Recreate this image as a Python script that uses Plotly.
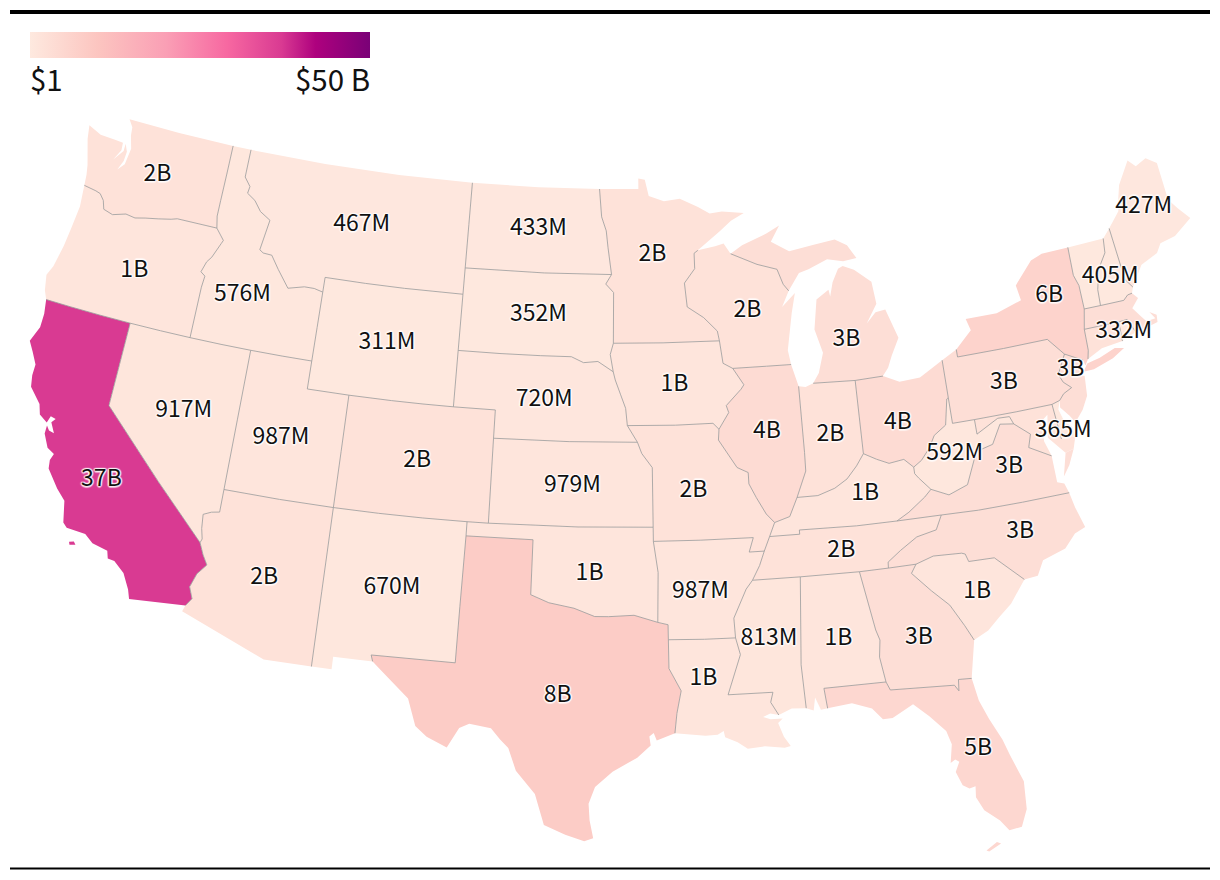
import plotly.graph_objects as go

# state values in dollars (unlabelled states are estimated from their fill)
states = ['WA', 'OR', 'CA', 'NV', 'ID', 'MT', 'WY', 'UT', 'AZ', 'NM', 'CO', 'ND', 'SD', 'NE', 'KS', 'OK', 'TX',
          'MN', 'IA', 'MO', 'AR', 'LA', 'WI', 'IL', 'MI', 'IN', 'OH', 'KY', 'TN', 'MS', 'AL', 'GA', 'FL', 'SC',
          'NC', 'VA', 'WV', 'PA', 'NY', 'NJ', 'DE', 'NH', 'RI', 'ME', 'MD', 'VT', 'MA', 'CT']
values = [2e9, 1e9, 37e9, 917e6, 576e6, 467e6, 311e6, 987e6, 2e9, 670e6, 2e9, 433e6, 352e6, 720e6, 979e6, 1e9, 8e9,
          2e9, 1e9, 2e9, 987e6, 1e9, 2e9, 4e9, 3e9, 2e9, 4e9, 1e9, 2e9, 813e6, 1e9, 3e9, 5e9, 1e9,
          3e9, 3e9, 592e6, 3e9, 6e9, 3e9, 365e6, 405e6, 332e6, 427e6, 2e9, 200e6, 3e9, 2e9]
labels = ['2B', '1B', '37B', '917M', '576M', '467M', '311M', '987M', '2B', '670M', '2B', '433M', '352M', '720M', '979M', '1B', '8B',
          '2B', '1B', '2B', '987M', '1B', '2B', '4B', '3B', '2B', '4B', '1B', '2B', '813M', '1B', '3B', '5B', '1B',
          '3B', '3B', '592M', '3B', '6B', '3B', '365M', '405M', '332M', '427M']
label_lon = [-120.55, -120.45, -119.49, -116.56, -114.95, -109.6, -107.55, -111.89, -111.6, -106.05, -105.5, -100.4, -100.2, -99.75, -98.3, -97.45, -98.7,
             -94.45, -93.5, -92.75, -92.6, -92.6, -89.75, -89.2, -85.0, -86.25, -83.05, -84.95, -86.3, -89.75, -86.8, -83.4, -81.63, -80.65,
             -78.35, -78.3, -80.65, -77.8, -74.8, -74.6, -75.55, -71.65, -71.7, -69.1]
label_lat = [47.33, 43.83, 36.38, 39.4, 43.84, 47.03, 43.0, 39.12, 34.16, 34.43, 38.96, 47.48, 44.43, 41.43, 38.43, 35.35, 31.0,
             46.62, 42.0, 38.24, 34.65, 31.6, 44.5, 40.18, 43.14, 39.86, 40.0, 37.68, 35.75, 32.88, 32.7, 32.4, 28.2, 33.7,
             35.53, 37.85, 38.63, 40.8, 43.47, 40.75, 38.7, 43.63, 41.6, 45.7]

# state outlines in lon/lat. names with a hyphen are shared borders, the rest are coast or national border
arcs = {
    'WA_coast': [(-117.03, 49), (-120, 49), (-122.76, 49), (-122.5, 48.75), (-122.45, 48.45), (-122.25, 48), (-122.35, 47.4), (-122.65, 47.15), (-122.45, 47.5), (-122.42, 47.85), (-122.6, 48.12), (-122.6, 47.85), (-123, 47.45), (-122.72, 47.85), (-122.75, 48.12), (-123.2, 48.15), (-124, 48.17), (-124.72, 48.38), (-124.6, 47.9), (-124.2, 47), (-124.1, 46.65), (-124.05, 46.27)],
    'OR-WA': [(-124.05, 46.27), (-123.4, 46.2), (-123.15, 46.15), (-122.9, 45.95), (-122.75, 45.65), (-122.25, 45.55), (-121.6, 45.7), (-121.1, 45.65), (-120.6, 45.74), (-119.95, 45.83), (-119.3, 45.93), (-119, 46), (-116.92, 46)],
    'ID-WA': [(-116.92, 46), (-117.04, 46.42), (-117.04, 47), (-117.03, 48), (-117.03, 49)],
    'OR_coast': [(-124.05, 46.27), (-123.95, 45.5), (-124.05, 44.7), (-124.15, 44), (-124.35, 43.2), (-124.55, 42.84), (-124.4, 42.3), (-124.21, 42)],
    'CA-OR': [(-124.21, 42), (-123, 42), (-121.5, 42), (-120, 42)],
    'NV-OR': [(-120, 42), (-118.5, 42), (-117.03, 42)],
    'ID-OR': [(-117.03, 42), (-117.03, 43), (-117.03, 43.83), (-116.98, 44.24), (-117.22, 44.36), (-117.05, 44.75), (-116.85, 44.95), (-116.53, 45.5), (-116.46, 45.62), (-116.92, 46)],
    'CA_coast': [(-124.21, 42), (-124.1, 41.5), (-124.1, 41), (-124.38, 40.44), (-124.1, 40.1), (-123.8, 39.7), (-123.8, 39.3), (-123.7, 38.9), (-123.1, 38.4), (-122.95, 38.05), (-122.55, 37.85), (-122.45, 38.1), (-122.2, 38.05), (-122.35, 37.9), (-122.1, 37.55), (-122.35, 37.6), (-122.5, 37.75), (-122.5, 37.45), (-122.2, 37), (-121.85, 36.85), (-121.95, 36.6), (-121.9, 36.3), (-121.3, 35.7), (-120.85, 35.35), (-120.65, 34.6), (-120.45, 34.45), (-119.6, 34.4), (-119.2, 34.15), (-118.5, 34.02), (-118.4, 33.75), (-118.1, 33.72), (-117.6, 33.38), (-117.25, 32.85), (-117.12, 32.53)],
    'CA_mx': [(-117.12, 32.53), (-114.72, 32.72)],
    'AZ-CA': [(-114.72, 32.72), (-114.5, 33), (-114.7, 33.4), (-114.5, 33.9), (-114.15, 34.27), (-114.4, 34.6), (-114.63, 35)],
    'CA-NV': [(-114.63, 35), (-117, 36.8), (-120, 39), (-120, 40.5), (-120, 42)],
    'AZ-NV': [(-114.63, 35), (-114.57, 35.14), (-114.68, 35.5), (-114.74, 36), (-114.4, 36.13), (-114.04, 36.19), (-114.04, 37)],
    'NV-UT': [(-114.04, 37), (-114.04, 39.5), (-114.04, 42)],
    'ID-NV': [(-117.03, 42), (-115.5, 42), (-114.04, 42)],
    'ID-UT': [(-114.04, 42), (-112.5, 42), (-111.05, 42)],
    'ID-WY': [(-111.05, 42), (-111.05, 43.2), (-111.05, 44.47)],
    'ID-MT': [(-111.05, 44.47), (-111.5, 44.55), (-112, 44.55), (-112.8, 44.4), (-113.45, 45), (-113.9, 45.45), (-114.35, 45.47), (-114.55, 45.56), (-114.33, 46.66), (-114.9, 46.9), (-115.3, 47.25), (-115.75, 47.45), (-115.7, 47.7), (-116.05, 48), (-116.05, 49)],
    'ID_north': [(-117.03, 49), (-116.05, 49)],
    'MT_north': [(-116.05, 49), (-112, 49), (-108, 49), (-104.05, 49)],
    'MT-ND': [(-104.05, 49), (-104.05, 47.5), (-104.05, 45.94)],
    'MT-SD': [(-104.05, 45.94), (-104.05, 45)],
    'MT-WY': [(-104.05, 45), (-107, 45), (-109, 45), (-111.05, 45), (-111.05, 44.47)],
    'WY-SD': [(-104.05, 45), (-104.05, 43)],
    'NE-WY': [(-104.05, 43), (-104.05, 41)],
    'CO-WY': [(-104.05, 41), (-105.5, 41), (-107, 41), (-109.05, 41)],
    'UT-WY': [(-109.05, 41), (-111.05, 41), (-111.05, 42)],
    'CO-UT': [(-109.05, 41), (-109.05, 39), (-109.05, 37)],
    'AZ-UT': [(-114.04, 37), (-111.5, 37), (-109.05, 37)],
    'AZ-NM': [(-109.05, 37), (-109.05, 34), (-109.05, 31.33)],
    'AZ_mx': [(-109.05, 31.33), (-111.07, 31.33), (-114.81, 32.5), (-114.72, 32.72)],
    'CO-NM': [(-109.05, 37), (-107, 37), (-105, 37), (-103, 37)],
    'CO-OK': [(-103, 37), (-102.04, 37)],
    'CO-KS': [(-102.04, 37), (-102.05, 40)],
    'CO-NE': [(-102.05, 40), (-102.05, 41), (-104.05, 41)],
    'NM-OK': [(-103, 37), (-103, 36.5)],
    'NM-TX': [(-103, 36.5), (-103.04, 34), (-103.06, 32), (-106.62, 32), (-106.53, 31.78)],
    'NM_mx': [(-106.53, 31.78), (-108.2, 31.78), (-108.2, 31.33), (-109.05, 31.33)],
    'ND_north': [(-104.05, 49), (-100.5, 49), (-97.23, 49)],
    'ND-MN': [(-97.23, 49), (-97.1, 48), (-96.85, 47.5), (-96.75, 46.9), (-96.56, 45.94)],
    'ND-SD': [(-96.56, 45.94), (-100, 45.94), (-104.05, 45.94)],
    'MN-SD': [(-96.56, 45.94), (-96.85, 45.6), (-96.45, 45.3), (-96.45, 43.5)],
    'IA-SD': [(-96.45, 43.5), (-96.6, 43.1), (-96.45, 42.49)],
    'NE-SD': [(-96.45, 42.49), (-97.2, 42.85), (-97.9, 42.8), (-98.5, 43), (-100, 43), (-102, 43), (-104.05, 43)],
    'IA-NE': [(-96.45, 42.49), (-96.35, 42.2), (-96.1, 41.7), (-95.85, 41.2), (-95.77, 40.59)],
    'MO-NE': [(-95.77, 40.59), (-95.3, 40)],
    'KS-NE': [(-95.3, 40), (-98.5, 40), (-102.05, 40)],
    'KS-MO': [(-95.3, 40), (-95.1, 39.6), (-94.62, 39.1), (-94.62, 37)],
    'KS-OK': [(-94.62, 37), (-98, 37), (-102.04, 37)],
    'MO-OK': [(-94.62, 37), (-94.62, 36.5)],
    'AR-OK': [(-94.62, 36.5), (-94.43, 35.4), (-94.48, 33.64)],
    'OK-TX': [(-94.48, 33.64), (-95.5, 33.9), (-96.6, 33.85), (-97.2, 33.85), (-98.1, 34.13), (-99.2, 34.3), (-100, 34.56), (-100, 36.5), (-103, 36.5)],
    'AR-TX': [(-94.48, 33.64), (-94.04, 33.55), (-94.04, 33.02)],
    'LA-TX': [(-94.04, 33.02), (-94.04, 32), (-93.55, 31.2), (-93.75, 30.4), (-93.85, 29.7)],
    'TX_coast': [(-93.85, 29.7), (-94.6, 29.45), (-94.72, 29.72), (-94.9, 29.6), (-94.85, 29.28), (-95.4, 28.85), (-96.4, 28.35), (-97.1, 27.8), (-97.35, 27.2), (-97.3, 26.6), (-97.15, 25.96)],
    'TX_mx': [(-97.15, 25.96), (-97.5, 25.85), (-98.25, 26.07), (-99.1, 26.4), (-99.5, 27.5), (-100.3, 28.3), (-100.65, 29.1), (-101, 29.38), (-101.4, 29.77), (-102.3, 29.88), (-102.7, 29.7), (-103.15, 28.98), (-104, 29.3), (-104.5, 29.65), (-104.9, 30.6), (-106, 31.4), (-106.53, 31.78)],
    'MN_coast': [(-97.23, 49), (-95.15, 49), (-95.15, 49.38), (-94.8, 49.33), (-94.6, 48.75), (-93.8, 48.55), (-92.95, 48.62), (-92, 48.3), (-91.4, 48.05), (-90.75, 48.1), (-89.6, 48), (-90.3, 47.75), (-90.9, 47.4), (-92.1, 46.75)],
    'MN-WI': [(-92.1, 46.75), (-92.3, 46.65), (-92.3, 46.1), (-92.85, 45.6), (-92.75, 44.75), (-91.95, 44.35), (-91.3, 43.85), (-91.22, 43.5)],
    'IA-MN': [(-91.22, 43.5), (-94, 43.5), (-96.45, 43.5)],
    'IA-WI': [(-91.22, 43.5), (-91.1, 42.7), (-90.64, 42.5)],
    'IA-IL': [(-90.64, 42.5), (-90.15, 41.9), (-90.3, 41.75), (-91.05, 41.2), (-90.95, 40.95), (-91.45, 40.38)],
    'IA-MO': [(-91.45, 40.38), (-91.72, 40.6), (-93.5, 40.58), (-95.77, 40.59)],
    'IL-MO': [(-91.45, 40.38), (-91.5, 40), (-90.7, 39), (-90.2, 38.8), (-90.2, 38.4), (-89.9, 37.9), (-89.5, 37.3), (-89.15, 36.98)],
    'KY-MO': [(-89.15, 36.98), (-89.42, 36.5)],
    'MO-TN': [(-89.42, 36.5), (-89.7, 36)],
    'AR-MO': [(-89.7, 36), (-90.37, 36), (-90.15, 36.5), (-92.5, 36.5), (-94.62, 36.5)],
    'AR-TN': [(-89.7, 36), (-89.95, 35.5), (-90.3, 35)],
    'AR-MS': [(-90.3, 35), (-90.6, 34.7), (-91.2, 33.7), (-91.17, 33)],
    'AR-LA': [(-91.17, 33), (-92.5, 33), (-94.04, 33.02)],
    'LA-MS': [(-91.17, 33), (-91, 32.4), (-91.6, 31), (-89.73, 31), (-89.85, 30.65), (-89.55, 30.18)],
    'LA_coast': [(-89.55, 30.18), (-89.9, 30.25), (-90.2, 30.15), (-89.9, 30.05), (-89.4, 30.05), (-89.6, 29.9), (-89.4, 29.4), (-89.15, 29.05), (-89.4, 29), (-90.2, 29.1), (-90.9, 29.05), (-91.3, 29.3), (-91.8, 29.5), (-91.85, 29.72), (-92.1, 29.6), (-92.6, 29.58), (-93.85, 29.7)],
    'WI_north': [(-92.1, 46.75), (-91.2, 46.87), (-90.75, 46.95), (-90.42, 46.57)],
    'MI-WI': [(-90.42, 46.57), (-89.1, 46.13), (-88.1, 45.9), (-87.85, 45.35), (-87.6, 45.1)],
    'WI_coast': [(-87.6, 45.1), (-88, 44.55), (-87.3, 45), (-87.55, 44.3), (-87.9, 43), (-87.8, 42.49)],
    'IL-WI': [(-87.8, 42.49), (-89, 42.5), (-90.64, 42.5)],
    'IL-KY': [(-89.15, 36.98), (-88.45, 37.15), (-88.05, 37.8)],
    'IL-IN': [(-88.05, 37.8), (-87.55, 38.7), (-87.53, 39.35), (-87.53, 41.7)],
    'IL_coast': [(-87.53, 41.7), (-87.8, 42.49)],
    'IN_coast': [(-87.53, 41.7), (-87.2, 41.65), (-86.82, 41.76)],
    'IN-MI': [(-86.82, 41.76), (-84.8, 41.7)],
    'IN-OH': [(-84.8, 41.7), (-84.82, 39.1)],
    'IN-KY': [(-84.82, 39.1), (-85.2, 38.7), (-85.7, 38.28), (-86.3, 38), (-87.1, 37.8), (-88.05, 37.8)],
    'MI_lower': [(-86.82, 41.76), (-86.5, 42.1), (-86.2, 42.8), (-86.5, 43.65), (-86.25, 44.7), (-85.6, 45), (-85.55, 44.75), (-85.35, 45.25), (-85, 45.7), (-84.75, 45.78), (-84.2, 45.6), (-83.4, 45.1), (-83.3, 44.3), (-83.9, 43.65), (-83.4, 44), (-82.9, 44.05), (-82.45, 43), (-82.9, 42.4), (-83.15, 42), (-83.45, 41.73)],
    'MI-OH': [(-83.45, 41.73), (-84.8, 41.7)],
    'MI_upper': [(-90.42, 46.57), (-89.8, 46.85), (-88.5, 47.2), (-87.8, 47.45), (-88.3, 46.9), (-87.4, 46.5), (-86.1, 46.65), (-85, 46.75), (-84.4, 46.5), (-84, 46), (-84.7, 45.95), (-85.5, 46.08), (-86.5, 45.8), (-87, 45.7), (-87.6, 45.1)],
    'KY-OH': [(-84.82, 39.1), (-84.25, 38.85), (-83.7, 38.65), (-83, 38.72), (-82.6, 38.4)],
    'OH-WV': [(-82.6, 38.4), (-82.2, 38.6), (-81.75, 39), (-81.45, 39.4), (-80.85, 39.7), (-80.6, 40.6), (-80.52, 40.64)],
    'OH-PA': [(-80.52, 40.64), (-80.52, 41.98)],
    'OH_coast': [(-80.52, 41.98), (-81.7, 41.5), (-82.7, 41.45), (-83.45, 41.73)],
    'KY-WV': [(-82.6, 38.4), (-82.6, 38.17), (-82.45, 38), (-81.97, 37.54)],
    'KY-VA': [(-81.97, 37.54), (-82.3, 37.3), (-83.1, 36.85), (-83.68, 36.6)],
    'KY-TN': [(-83.68, 36.6), (-85.5, 36.6), (-88.07, 36.65), (-88.07, 36.5), (-89.42, 36.5)],
    'TN-VA': [(-83.68, 36.6), (-81.68, 36.59)],
    'NC-TN': [(-81.68, 36.59), (-82, 36.1), (-82.9, 35.95), (-83.7, 35.55), (-84.3, 35.2), (-84.32, 34.99)],
    'GA-TN': [(-84.32, 34.99), (-85.6, 34.98)],
    'AL-TN': [(-85.6, 34.98), (-88.2, 35)],
    'MS-TN': [(-88.2, 35), (-90.3, 35)],
    'AL-MS': [(-88.2, 35), (-88.47, 31.9), (-88.4, 30.35)],
    'MS_coast': [(-88.4, 30.35), (-89, 30.38), (-89.55, 30.18)],
    'AL_coast': [(-88.4, 30.35), (-88.1, 30.25), (-88, 30.7), (-87.8, 30.25), (-87.52, 30.28)],
    'AL-FL': [(-87.52, 30.28), (-87.6, 31), (-85, 31)],
    'AL-GA': [(-85, 31), (-85.15, 31.9), (-85.05, 32.5), (-85.18, 32.87), (-85.6, 34.98)],
    'FL-GA': [(-85, 31), (-84.86, 30.7), (-82.2, 30.57), (-82.05, 30.35), (-82, 30.75), (-81.45, 30.72)],
    'FL_coast': [(-81.45, 30.72), (-81.3, 29.9), (-81, 29.2), (-80.6, 28.4), (-80.4, 27.8), (-80.03, 26.8), (-80.1, 25.8), (-80.4, 25.2), (-80.9, 25.15), (-81.2, 25.55), (-81.75, 26), (-82, 26.5), (-81.95, 26.9), (-82.2, 26.85), (-82.45, 27), (-82.65, 27.5), (-82.45, 27.85), (-82.6, 27.95), (-82.8, 27.85), (-82.65, 28.5), (-82.8, 29), (-83.4, 29.6), (-84, 30.1), (-84.9, 29.7), (-85.3, 29.7), (-85.7, 30.12), (-86.5, 30.38), (-87.52, 30.28)],
    'GA_coast': [(-81.45, 30.72), (-81.3, 31.3), (-81.1, 32.05)],
    'GA-SC': [(-81.1, 32.05), (-81.4, 32.6), (-81.9, 33.4), (-82.6, 34), (-83.35, 34.7), (-83.1, 35)],
    'GA-NC': [(-83.1, 35), (-84.32, 34.99)],
    'SC_coast': [(-81.1, 32.05), (-80.45, 32.3), (-79.9, 32.7), (-79.3, 33.1), (-78.55, 33.86)],
    'NC-SC': [(-78.55, 33.86), (-79.67, 34.8), (-80.8, 34.82), (-80.9, 35.1), (-81.05, 35.15), (-82.3, 35.2), (-83.1, 35)],
    'NC_coast': [(-78.55, 33.86), (-77.95, 33.9), (-77.6, 34.4), (-76.55, 34.65), (-76, 35.1), (-75.5, 35.25), (-75.75, 36), (-75.87, 36.55)],
    'NC-VA': [(-75.87, 36.55), (-78, 36.55), (-80, 36.55), (-81.68, 36.59)],
    'VA_coast': [(-76.3, 37.95), (-76.3, 37), (-76, 36.9), (-75.87, 36.55)],
    'VA-WV': [(-81.97, 37.54), (-81.2, 37.25), (-80.3, 37.5), (-79.65, 38.6), (-78.85, 38.75), (-78.35, 39.4), (-77.72, 39.32)],
    'MD-VA': [(-77.72, 39.32), (-77.05, 38.85), (-77.25, 38.4), (-76.3, 37.95)],
    'MD-WV': [(-77.72, 39.32), (-77.85, 39.6), (-78.4, 39.62), (-79.48, 39.2), (-79.48, 39.72)],
    'PA-WV': [(-79.48, 39.72), (-80.52, 39.72), (-80.52, 40.64)],
    'MD-PA': [(-79.48, 39.72), (-77.5, 39.72), (-75.79, 39.72)],
    'DE-PA': [(-75.79, 39.72), (-75.4, 39.8)],
    'DE-MD': [(-75.79, 39.72), (-75.7, 38.46)],
    'MD_coast': [(-75.7, 38.46), (-75.05, 38.45), (-75.25, 38.03), (-75.65, 37.95), (-75.9, 38.2), (-76.3, 38.6), (-76.1, 39.4), (-76.45, 39.2), (-76.5, 38.5), (-76.3, 37.95)],
    'DE_coast': [(-75.7, 38.46), (-75.05, 38.45), (-75.1, 38.8), (-75.4, 39.05), (-75.55, 39.5), (-75.4, 39.8)],
    'NJ-PA': [(-75.4, 39.8), (-75.15, 40), (-74.72, 40.15), (-75.05, 40.4), (-75.2, 40.7), (-74.7, 41.36)],
    'NY-PA': [(-74.7, 41.36), (-75.35, 42), (-77.5, 42), (-79.76, 42), (-79.76, 42.27)],
    'PA_coast': [(-79.76, 42.27), (-80.52, 41.98)],
    'NJ-NY': [(-74.7, 41.36), (-73.9, 41)],
    'NJ_coast': [(-73.9, 41), (-74.25, 40.5), (-74, 40.45), (-74.1, 39.75), (-74.45, 39.3), (-74.9, 38.93), (-75.1, 39.2), (-75.45, 39.55), (-75.4, 39.8)],
    'NY_coast': [(-79.76, 42.27), (-78.9, 42.85), (-79.05, 43.27), (-77.5, 43.27), (-76.2, 43.55), (-76.3, 44.1), (-75.3, 44.85), (-74.7, 45), (-73.34, 45.01)],
    'NY-VT': [(-73.34, 45.01), (-73.4, 44), (-73.25, 43.6), (-73.27, 42.75)],
    'MA-NY': [(-73.27, 42.75), (-73.5, 42.05)],
    'CT-NY': [(-73.5, 42.05), (-73.55, 41.3), (-73.66, 41)],
    'NY_sound': [(-73.66, 41), (-73.85, 40.8), (-73.9, 41)],
    'CT_coast': [(-73.66, 41), (-72.9, 41.25), (-71.86, 41.32)],
    'CT-RI': [(-71.86, 41.32), (-71.8, 42.01)],
    'CT-MA': [(-71.8, 42.01), (-73.5, 42.05)],
    'MA-RI': [(-71.8, 42.01), (-71.38, 42.02), (-71.13, 41.5)],
    'RI_coast': [(-71.13, 41.5), (-71.4, 41.45), (-71.86, 41.32)],
    'MA-VT': [(-73.27, 42.75), (-72.46, 42.73)],
    'MA-NH': [(-72.46, 42.73), (-71.3, 42.7), (-71.05, 42.85), (-70.82, 42.87)],
    'MA_coast': [(-70.82, 42.87), (-70.6, 42.65), (-71, 42.35), (-70.7, 42), (-70.5, 41.78), (-70.05, 41.8), (-70.25, 42.07), (-69.95, 41.9), (-70, 41.65), (-70.65, 41.55), (-71.13, 41.5)],
    'NH-VT': [(-72.46, 42.73), (-72.4, 43.3), (-72.1, 44), (-71.6, 44.5), (-71.5, 45.01)],
    'VT_north': [(-73.34, 45.01), (-71.5, 45.01)],
    'NH_north': [(-71.5, 45.01), (-71.08, 45.3)],
    'ME-NH': [(-71.08, 45.3), (-70.98, 43.4), (-70.7, 43.07)],
    'NH_coast': [(-70.7, 43.07), (-70.82, 42.87)],
    'ME_coast': [(-71.08, 45.3), (-70.4, 45.8), (-70.25, 46.2), (-70, 46.7), (-69.23, 47.46), (-68.9, 47.18), (-68.3, 47.35), (-67.8, 47.07), (-67.8, 45.7), (-67.45, 45.3), (-67, 44.85), (-68, 44.4), (-68.8, 44.3), (-69.1, 44), (-70, 43.75), (-70.7, 43.07)],
}

rings = {
    'WA': [['WA_coast', 'OR-WA', 'ID-WA']],
    'OR': [['OR_coast', 'CA-OR', 'NV-OR', 'ID-OR', 'OR-WA']],
    'CA': [['CA_coast', 'CA_mx', 'AZ-CA', 'CA-NV', 'CA-OR']],
    'NV': [['CA-NV', 'NV-OR', 'ID-NV', 'NV-UT', 'AZ-NV']],
    'ID': [['ID_north', 'ID-MT', 'ID-WY', 'ID-UT', 'ID-NV', 'ID-OR', 'ID-WA']],
    'MT': [['MT_north', 'MT-ND', 'MT-SD', 'MT-WY', 'ID-MT']],
    'WY': [['MT-WY', 'WY-SD', 'NE-WY', 'CO-WY', 'UT-WY', 'ID-WY']],
    'UT': [['ID-UT', 'UT-WY', 'CO-UT', 'AZ-UT', 'NV-UT']],
    'AZ': [['AZ-UT', 'AZ-NM', 'AZ_mx', 'AZ-CA', 'AZ-NV']],
    'CO': [['CO-NE', 'CO-KS', 'CO-OK', 'CO-NM', 'CO-UT', 'CO-WY']],
    'NM': [['CO-NM', 'NM-OK', 'NM-TX', 'NM_mx', 'AZ-NM']],
    'ND': [['ND_north', 'ND-MN', 'ND-SD', 'MT-ND']],
    'SD': [['ND-SD', 'MN-SD', 'IA-SD', 'NE-SD', 'WY-SD', 'MT-SD']],
    'NE': [['NE-SD', 'IA-NE', 'MO-NE', 'KS-NE', 'CO-NE', 'NE-WY']],
    'KS': [['KS-NE', 'KS-MO', 'KS-OK', 'CO-KS']],
    'OK': [['KS-OK', 'MO-OK', 'AR-OK', 'OK-TX', 'NM-OK', 'CO-OK']],
    'TX': [['OK-TX', 'AR-TX', 'LA-TX', 'TX_coast', 'TX_mx', 'NM-TX']],
    'MN': [['MN_coast', 'MN-WI', 'IA-MN', 'MN-SD', 'ND-MN']],
    'IA': [['IA-MN', 'IA-WI', 'IA-IL', 'IA-MO', 'IA-NE', 'IA-SD']],
    'MO': [['IA-MO', 'IL-MO', 'KY-MO', 'MO-TN', 'AR-MO', 'MO-OK', 'KS-MO', 'MO-NE']],
    'AR': [['AR-MO', 'AR-TN', 'AR-MS', 'AR-LA', 'AR-TX', 'AR-OK']],
    'LA': [['AR-LA', 'LA-MS', 'LA_coast', 'LA-TX']],
    'WI': [['WI_north', 'MI-WI', 'WI_coast', 'IL-WI', 'IA-WI', 'MN-WI']],
    'IL': [['IL-WI', 'IA-IL', 'IL-MO', 'IL-KY', 'IL-IN', 'IL_coast']],
    'IN': [['IL-IN', 'IN_coast', 'IN-MI', 'IN-OH', 'IN-KY']],
    'MI': [['MI_lower', 'MI-OH', 'IN-MI'], ['MI_upper', 'MI-WI']],
    'OH': [['IN-OH', 'KY-OH', 'OH-WV', 'OH-PA', 'OH_coast', 'MI-OH']],
    'KY': [['KY-OH', 'KY-WV', 'KY-VA', 'KY-TN', 'KY-MO', 'IL-KY', 'IN-KY']],
    'TN': [['KY-TN', 'MO-TN', 'AR-TN', 'MS-TN', 'AL-TN', 'GA-TN', 'NC-TN', 'TN-VA']],
    'MS': [['AR-MS', 'LA-MS', 'MS_coast', 'AL-MS', 'MS-TN']],
    'AL': [['AL-MS', 'AL_coast', 'AL-FL', 'AL-GA', 'AL-TN']],
    'GA': [['AL-GA', 'FL-GA', 'GA_coast', 'GA-SC', 'GA-NC', 'GA-TN']],
    'FL': [['AL-FL', 'FL-GA', 'FL_coast']],
    'SC': [['GA-SC', 'SC_coast', 'NC-SC']],
    'NC': [['NC-SC', 'NC_coast', 'NC-VA', 'NC-TN', 'GA-NC']],
    'VA': [['VA_coast', 'NC-VA', 'TN-VA', 'KY-VA', 'VA-WV', 'MD-VA']],
    'WV': [['KY-WV', 'OH-WV', 'PA-WV', 'MD-WV', 'VA-WV']],
    'PA': [['PA-WV', 'MD-PA', 'DE-PA', 'NJ-PA', 'NY-PA', 'PA_coast', 'OH-PA']],
    'MD': [['MD-PA', 'DE-MD', 'MD_coast', 'MD-VA', 'MD-WV']],
    'DE': [['DE-PA', 'DE_coast', 'DE-MD']],
    'NJ': [['NJ-PA', 'NJ-NY', 'NJ_coast']],
    'NY': [['NY-PA', 'NY_coast', 'NY-VT', 'MA-NY', 'CT-NY', 'NY_sound', 'NJ-NY']],
    'CT': [['CT-NY', 'CT_coast', 'CT-RI', 'CT-MA']],
    'RI': [['CT-RI', 'MA-RI', 'RI_coast']],
    'MA': [['MA-VT', 'MA-NH', 'MA_coast', 'MA-RI', 'CT-MA', 'MA-NY']],
    'VT': [['VT_north', 'NH-VT', 'MA-VT', 'NY-VT']],
    'NH': [['NH_north', 'ME-NH', 'NH_coast', 'MA-NH', 'NH-VT']],
    'ME': [['ME_coast', 'ME-NH']],
}

# small pieces that touch nothing else
islands = {
    'CA': [[(-120.2, 34), (-120, 34.05), (-119.9, 33.95), (-120.15, 33.9)]],
    'NY': [[(-74, 40.6), (-73.75, 40.85), (-73.1, 40.95), (-72.3, 41.15), (-71.87, 41.07), (-72.5, 40.82), (-73.5, 40.6)]],
    'VA': [[(-75.25, 38.03), (-75.65, 37.95), (-75.95, 37.15), (-75.6, 37.5)]],
    'FL': [[(-81.9, 24.55), (-81.45, 24.8), (-81.3, 24.72), (-81.8, 24.5)]],
}

color_stops = [(0, '#fee9df'), (0.2, '#fcc5c0'), (0.4, '#fa9fb5'), (0.58, '#f768a1'),
               (0.74, '#d93a92'), (0.84, '#ae017e'), (1, '#7a0177')]
zmin, zmax = 1, 50e9


def join_arcs(names):
    first = arcs[names[0]]
    nxt = arcs[names[1]]
    ring = list(first) if first[-1] in (nxt[0], nxt[-1]) else list(first[::-1])
    for name in names[1:]:
        a = arcs[name]
        if ring[-1] == a[0]:
            ring += a[1:]
        elif ring[-1] == a[-1]:
            ring += a[::-1][1:]
        else:
            raise ValueError(f'{names}: {name} does not connect at {ring[-1]}')
    if ring[0] != ring[-1]:
        raise ValueError(f'{names} is not closed')
    return ring


def clockwise(ring):
    area = sum(a[0] * b[1] - b[0] * a[1] for a, b in zip(ring, ring[1:] + ring[:1]))
    return ring[::-1] if area > 0 else ring


def fill_color(v):
    t = (v - zmin) / (zmax - zmin)
    for (t0, c0), (t1, c1) in zip(color_stops, color_stops[1:]):
        if t <= t1:
            f = (t - t0) / (t1 - t0)
            rgb = [int(c0[i:i + 2], 16) * (1 - f) + int(c1[i:i + 2], 16) * f for i in (1, 3, 5)]
            return 'rgb(%d,%d,%d)' % tuple(round(x) for x in rgb)
    return color_stops[-1][1]


# the page body adds 8px around the figure
def px(x):
    return (x - 8) / 1220


def py(y):
    return 1 - (y - 8) / 880


fig = go.Figure()

for st, val in zip(states, values):
    polys = [join_arcs(names) for names in rings[st]]
    polys += [p + p[:1] for p in islands.get(st, [])]
    lon, lat = [], []
    for p in polys:
        p = clockwise(p)
        lon += [pt[0] for pt in p] + [None]
        lat += [pt[1] for pt in p] + [None]
    fig.add_trace(go.Scattergeo(lon=lon, lat=lat, mode='lines', fill='toself', fillcolor=fill_color(val),
                                line=dict(width=0), name=st, hoverinfo='skip', showlegend=False))

# only borders between two states get a line, coasts stay unstroked
line_lon, line_lat = [], []
for name, pts in arcs.items():
    if '-' in name:
        line_lon += [p[0] for p in pts] + [None]
        line_lat += [p[1] for p in pts] + [None]
fig.add_trace(go.Scattergeo(lon=line_lon, lat=line_lat, mode='lines', line=dict(color='#999999', width=0.8),
                            hoverinfo='skip', showlegend=False))

halo = ', '.join(f'{dx}px {dy}px 1px rgba(255,255,255,0.6)' for dx, dy in
                 [(-1.5, 0), (1.5, 0), (0, -1.5), (0, 1.5), (-1, -1), (1, -1), (-1, 1), (1, 1)])
fig.add_trace(go.Scattergeo(
    lon=label_lon, lat=label_lat, text=labels, mode='text', hoverinfo='skip', showlegend=False,
    textfont=dict(family='Noto Sans CJK SC', size=23, color='#111111', shadow=halo),
))

# carries the colour bar only
fig.add_trace(go.Scattergeo(
    lon=[-96], lat=[38], mode='markers', hoverinfo='skip', showlegend=False,
    marker=dict(size=1, opacity=0, color=[zmin], cmin=zmin, cmax=zmax, showscale=True,
                colorscale=[[t, c] for t, c in color_stops],
                colorbar=dict(orientation='h', x=px(30), xanchor='left', y=py(32), yanchor='top', xpad=0, ypad=0,
                              lenmode='pixels', len=340, thickness=26, outlinewidth=0, ticks='', showticklabels=False)),
))

fig.update_layout(
    width=1220, height=880, margin=dict(l=0, r=0, t=0, b=0), paper_bgcolor='white',
    font=dict(family='Noto Sans CJK SC', color='#111111'),
    geo=dict(visible=False, bgcolor='white',
             projection=dict(type='conic equal area', parallels=[29.5, 45.5], rotation=dict(lon=-96), scale=1.296),
             center=dict(lon=-96.21, lat=39.8),
             lonaxis=dict(range=[-124.72, -66.95]), lataxis=dict(range=[18, 56]),
             domain=dict(x=[0, 1], y=[0, 1])),
    shapes=[
        dict(type='line', xref='paper', yref='paper', x0=px(10), x1=px(1210), y0=py(12), y1=py(12),
             line=dict(color='black', width=4)),
        dict(type='line', xref='paper', yref='paper', x0=px(10), x1=px(1210), y0=py(868.5), y1=py(868.5),
             line=dict(color='black', width=2)),
    ],
    annotations=[
        dict(text='$1', xref='paper', yref='paper', x=px(28), y=py(78), xanchor='left', yanchor='middle',
             showarrow=False, font=dict(size=29.5)),
        dict(text='$50 B', xref='paper', yref='paper', x=px(372), y=py(78), xanchor='right', yanchor='middle',
             showarrow=False, font=dict(size=29.5)),
    ],
)

fig.write_html("out.html")
